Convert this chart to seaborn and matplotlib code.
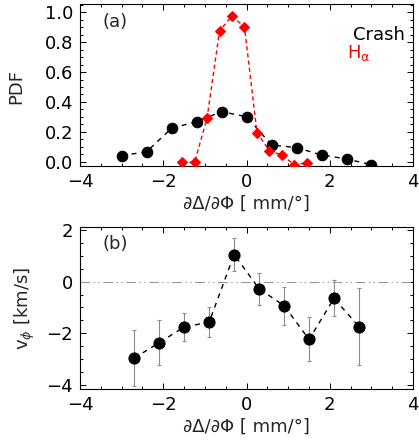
import matplotlib
matplotlib.use("Agg")
import matplotlib.pyplot as plt
from matplotlib.ticker import MultipleLocator
import seaborn as sns
import numpy as np

# ---- data ----
crash_x = [-3.0, -2.4, -1.8, -1.2, -0.6, 0.0, 0.6, 1.2, 1.8, 2.4, 3.0]
crash_pdf = [0.040, 0.067, 0.224, 0.268, 0.335, 0.301, 0.112, 0.094, 0.045, 0.018, -0.020]

ha_x = [-1.55, -1.25, -0.95, -0.65, -0.35, -0.05, 0.25, 0.55, 0.85, 1.15, 1.45]
ha_pdf = [-0.005, -0.005, 0.29, 0.875, 0.977, 0.90, 0.194, 0.072, 0.045, -0.022, -0.007]

v_x = [-2.7, -2.1, -1.5, -0.9, -0.3, 0.3, 0.9, 1.5, 2.1, 2.7]
v_phi = [-2.95, -2.36, -1.75, -1.57, 1.04, -0.28, -0.93, -2.23, -0.65, -1.74]
v_err = [1.08, 0.87, 0.54, 0.58, 0.63, 0.62, 0.73, 0.85, 0.69, 1.49]

xlabel_text = "\u2202\u0394/\u2202\u03A6 [ mm/\u00B0]"

# ---- style ----
sns.set_style("ticks")
plt.rcParams["font.family"] = ["DejaVu Sans"]
plt.rcParams["mathtext.fontset"] = "dejavusans"
plt.rcParams["lines.scale_dashes"] = False
FS = 13

fig = plt.figure(figsize=(4.19, 4.44), dpi=100)
ax1 = fig.add_axes([0.191, 0.6268, 0.795, 0.3642])
ax2 = fig.add_axes([0.191, 0.1245, 0.795, 0.3642])


def style_axes(ax):
    for s in ax.spines.values():
        s.set_linewidth(0.8)
        s.set_color("black")
    ax.tick_params(which="both", direction="in", top=True, right=True,
                   labelsize=FS, colors="black", width=0.7)
    ax.tick_params(which="major", length=4.5)
    ax.tick_params(which="minor", length=2.3)
    ax.tick_params(axis="x", which="major", pad=5)
    ax.tick_params(axis="y", which="major", pad=5)
    ax.set_xlim(-4, 4)
    ax.xaxis.set_major_locator(MultipleLocator(2))
    ax.xaxis.set_minor_locator(MultipleLocator(0.5))
    ax.set_xlabel(xlabel_text, fontsize=FS)
    ax.xaxis.set_label_coords(0.5, -0.178)


# ---- panel (a) ----
sns.lineplot(x=crash_x, y=crash_pdf, ax=ax1, color="black", sort=False,
             errorbar=None, marker="o", markersize=7.6, markeredgecolor="black",
             markerfacecolor="black", linewidth=1.0, zorder=3)
ax1.lines[-1].set_linestyle((0, (3.6, 3.6)))
sns.lineplot(x=ha_x, y=ha_pdf, ax=ax1, color="red", sort=False,
             errorbar=None, marker="D", markersize=4.8, markeredgecolor="red",
             markerfacecolor="red", markeredgewidth=0.8, linewidth=1.0, zorder=4)
ax1.lines[-1].set_linestyle((0, (3.0, 2.2)))

style_axes(ax1)
ax1.set_ylim(-0.027, 1.056)
ax1.yaxis.set_major_locator(MultipleLocator(0.2))
ax1.yaxis.set_minor_locator(MultipleLocator(0.05))
ax1.set_ylabel("PDF", fontsize=FS)
ax1.yaxis.set_label_coords(-0.165, 0.49)
ax1.text(0.068, 0.89, "(a)", transform=ax1.transAxes, fontsize=FS,
         ha="left", va="center")
ax1.text(0.976, 0.81, "Crash", transform=ax1.transAxes, fontsize=FS,
         ha="right", va="center", color="black")
ax1.text(0.80, 0.70, r"H$_\mathrm{\alpha}$", transform=ax1.transAxes,
         fontsize=FS, ha="left", va="center", color="red")

# ---- panel (b) ----
ax2.axhline(0, color="#999999", linewidth=0.8,
            linestyle=(0, (7, 2.5, 1, 2.5, 1, 2.5)), zorder=1)
ax2.errorbar(v_x, v_phi, yerr=v_err, fmt="none", ecolor="#8c8c8c",
             elinewidth=0.8, capsize=1.6, capthick=0.8, zorder=2)
sns.lineplot(x=v_x, y=v_phi, ax=ax2, color="black", sort=False,
             errorbar=None, marker="o", markersize=8.0, markeredgecolor="black",
             markerfacecolor="black", linewidth=1.0, zorder=3)
ax2.lines[-1].set_linestyle((0, (3.6, 3.6)))

style_axes(ax2)
ax2.set_ylim(-4.13, 2.1)
ax2.yaxis.set_major_locator(MultipleLocator(2))
ax2.yaxis.set_minor_locator(MultipleLocator(0.5))
ax2.set_ylabel(r"v$_\phi$ [km/s]", fontsize=FS)
ax2.yaxis.set_label_coords(-0.13, 0.5)
ax2.text(0.068, 0.895, "(b)", transform=ax2.transAxes, fontsize=FS,
         ha="left", va="center")

fig.savefig("out.png", dpi=100)
